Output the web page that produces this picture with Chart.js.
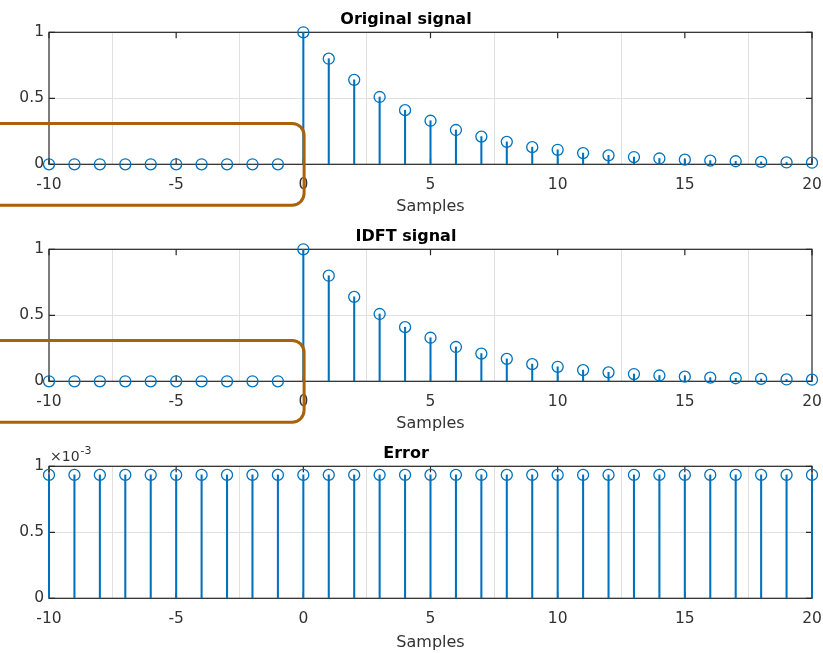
<!DOCTYPE html>
<html>
<head>
<meta charset="utf-8">
<script src="https://cdn.jsdelivr.net/npm/chart.js@4.4.1/dist/chart.umd.min.js"></script>
<style>
  body { margin: 0; background: #fff; }
  #wrap { position: relative; width: 823px; height: 653px; overflow: hidden; }
  canvas { position: absolute; left: 0; }
</style>
</head>
<body>
<div id="wrap">
  <canvas id="c1" width="823" height="217" style="top:0px"></canvas>
  <canvas id="c2" width="823" height="217" style="top:217px"></canvas>
  <canvas id="c3" width="823" height="219" style="top:434px"></canvas>
</div>
<script>
// Data
const samples = [-10, -9, -8, -7, -6, -5, -4, -3, -2, -1, 0, 1, 2, 3, 4, 5, 6, 7, 8, 9, 10,
                 11, 12, 13, 14, 15, 16, 17, 18, 19, 20];
const originalSignal = [0, 0, 0, 0, 0, 0, 0, 0, 0, 0,
                        1, 0.8, 0.64, 0.51, 0.41, 0.33, 0.26, 0.21, 0.17, 0.13, 0.11,
                        0.085, 0.068, 0.055, 0.044, 0.035, 0.028, 0.023, 0.018, 0.014, 0.012];
const idftSignal = [0, 0, 0, 0, 0, 0, 0, 0, 0, 0,
                    1, 0.8, 0.64, 0.51, 0.41, 0.33, 0.26, 0.21, 0.17, 0.13, 0.11,
                    0.085, 0.068, 0.055, 0.044, 0.035, 0.028, 0.023, 0.018, 0.014, 0.012];
// error values in units of 1e-3
const errorSignal = [0.935, 0.935, 0.935, 0.935, 0.935, 0.935, 0.935, 0.935, 0.935, 0.935,
                     0.935, 0.935, 0.935, 0.935, 0.935, 0.935, 0.935, 0.935, 0.935, 0.935, 0.935,
                     0.935, 0.935, 0.935, 0.935, 0.935, 0.935, 0.935, 0.935, 0.935, 0.935];
const xTicks = [-10, -5, 0, 5, 10, 15, 20];
const yTicks = [0, 0.5, 1];

// highlighted region (data units) on the first two plots
const highlight = { xFrom: -12.5, xTo: 0.03, yFrom: -0.31, yTo: 0.31 };

const blue = '#0072BD';
const axisColor = '#262626';
const textColor = '#333333';
const gridColor = '#e0e0e0';
Chart.defaults.font.family = 'DejaVu Sans';

// MATLAB-style box with inward ticks
const axesBox = {
  id: 'axesBox',
  beforeDatasetsDraw(chart) {
    const { ctx, chartArea: a, scales: { x, y } } = chart;
    ctx.save();
    ctx.strokeStyle = axisColor;
    ctx.lineWidth = 1.2;
    ctx.strokeRect(a.left, a.top, a.right - a.left, a.bottom - a.top);
    ctx.beginPath();
    x.ticks.forEach(t => {
      const px = x.getPixelForValue(t.value);
      ctx.moveTo(px, a.bottom); ctx.lineTo(px, a.bottom - 6);
      ctx.moveTo(px, a.top); ctx.lineTo(px, a.top + 6);
    });
    y.ticks.forEach(t => {
      const py = y.getPixelForValue(t.value);
      ctx.moveTo(a.left, py); ctx.lineTo(a.left + 6, py);
      ctx.moveTo(a.right, py); ctx.lineTo(a.right - 6, py);
    });
    ctx.stroke();
    ctx.restore();
  }
};

const highlightBox = {
  id: 'highlightBox',
  afterDraw(chart, args, opts) {
    if (!opts.box) return;
    const { ctx, scales: { x, y } } = chart;
    const l = x.getPixelForValue(opts.box.xFrom), r = x.getPixelForValue(opts.box.xTo);
    const t = y.getPixelForValue(opts.box.yTo), b = y.getPixelForValue(opts.box.yFrom);
    ctx.save();
    ctx.strokeStyle = '#a8620c';
    ctx.lineWidth = 3;
    ctx.beginPath();
    ctx.roundRect(l, t, r - l, b - t, 12);
    ctx.stroke();
    ctx.restore();
  }
};

const exponentLabel = {
  id: 'exponentLabel',
  afterDraw(chart, args, opts) {
    if (!opts.text) return;
    const { ctx, chartArea: a } = chart;
    ctx.save();
    ctx.fillStyle = textColor;
    ctx.textBaseline = 'alphabetic';
    ctx.font = '14px "DejaVu Sans"';
    ctx.fillText('\u00d710', a.left + 1, a.top - 5);
    const w = ctx.measureText('\u00d710').width;
    ctx.font = '11px "DejaVu Sans"';
    ctx.fillText(opts.text, a.left + 2 + w, a.top - 12);
    ctx.restore();
  }
};

function stemChart(id, title, values, axisHeight, box, exponent) {
  const points = samples.map((s, i) => ({ x: s, y: values[i] }));
  return new Chart(document.getElementById(id), {
    type: 'scatter',
    data: {
      datasets: [{
        type: 'bar',
        data: points,
        backgroundColor: blue,
        borderWidth: 0,
        barThickness: 1.4,
        clip: false
      }, {
        type: 'scatter',
        data: points,
        pointStyle: 'circle',
        pointRadius: 5.5,
        pointBorderWidth: 1.3,
        pointBorderColor: blue,
        pointBackgroundColor: 'rgba(0,0,0,0)',
        clip: false
      }]
    },
    options: {
      responsive: false,
      animation: false,
      events: [],
      layout: { padding: { left: 0, right: 11, top: 0, bottom: 0 } },
      scales: {
        x: {
          type: 'linear',
          min: -10,
          max: 20,
          offset: false,
          afterBuildTicks: s => { s.ticks = xTicks.map(v => ({ value: v })); },
          ticks: { padding: 11, color: textColor, font: { size: 15.5 }, callback: v => String(v) },
          grid: { color: gridColor, drawTicks: false },
          border: { display: false },
          title: { display: true, text: 'Samples', color: textColor, font: { size: 16 },
                   padding: { top: 0, bottom: 1 } },
          afterFit: s => {
            s.height = axisHeight;
            s.paddingLeft = 0;
            s.paddingRight = 0;
          }
        },
        y: {
          type: 'linear',
          min: 0,
          max: 1,
          afterBuildTicks: s => { s.ticks = yTicks.map(v => ({ value: v })); },
          ticks: { padding: 5, color: textColor, font: { size: 15.5 }, callback: v => String(v) },
          grid: { color: gridColor, drawTicks: false },
          border: { display: false },
          afterFit: s => { s.width = 49; }
        }
      },
      plugins: {
        legend: { display: false },
        tooltip: { enabled: false },
        title: {
          display: true,
          text: title,
          color: '#000',
          font: { size: 16, weight: 'bold' },
          padding: { top: 10, bottom: 3.1 }
        },
        highlightBox: { box: box },
        exponentLabel: { text: exponent }
      }
    },
    plugins: [axesBox, highlightBox, exponentLabel]
  });
}

stemChart('c1', 'Original signal', originalSignal, 52.7, highlight, null);
stemChart('c2', 'IDFT signal', idftSignal, 52.7, highlight, null);
stemChart('c3', 'Error', errorSignal, 54.7, null, '-3');
</script>
</body>
</html>
